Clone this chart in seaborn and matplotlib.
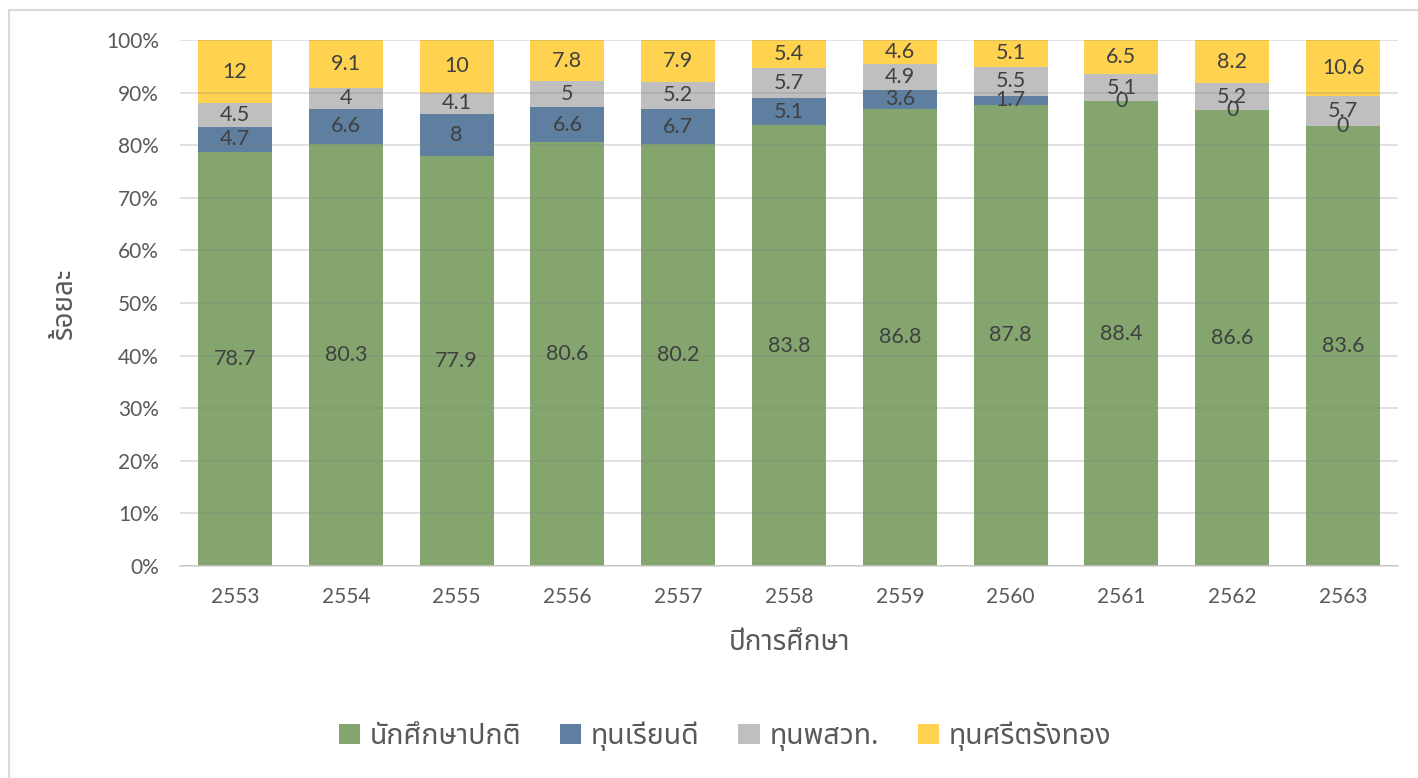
import matplotlib
matplotlib.use("Agg")
import matplotlib.pyplot as plt
from matplotlib.patches import Rectangle, Patch
import numpy as np
import pandas as pd
import seaborn as sns

years = ["2553", "2554", "2555", "2556", "2557", "2558", "2559", "2560", "2561", "2562", "2563"]
series_names = ["นักศึกษาปกติ", "ทุนเรียนดี", "ทุนพสวท.", "ทุนศรีตรังทอง"]
normal = [78.7, 80.3, 77.9, 80.6, 80.2, 83.8, 86.8, 87.8, 88.4, 86.6, 83.6]
merit = [4.7, 6.6, 8, 6.6, 6.7, 5.1, 3.6, 1.7, 0, 0, 0]
dpst = [4.5, 4, 4.1, 5, 5.2, 5.7, 4.9, 5.5, 5.1, 5.2, 5.7]
sritrang = [12, 9.1, 10, 7.8, 7.9, 5.4, 4.6, 5.1, 6.5, 8.2, 10.6]
colors = ["#84A66E", "#5F7FA1", "#BFBFBF", "#FFD34F"]
y_ticks = [0, 10, 20, 30, 40, 50, 60, 70, 80, 90, 100]

sns.set_theme(style="white")
plt.rcParams["font.family"] = ["Lato", "Noto Sans Thai", "DejaVu Sans"]

data = np.array([normal, merit, dpst, sritrang], dtype=float)
totals = data.sum(axis=0)
pct = data / totals * 100
cum = np.cumsum(pct, axis=0)

fig = plt.figure(figsize=(14.18, 7.78), dpi=100)
ax = fig.add_axes([179.6 / 1418, 1 - 566 / 778, (1398.4 - 179.6) / 1418, (566 - 40) / 778])

# stacked bars: draw cumulative heights from the top layer down
for i in range(3, -1, -1):
    df = pd.DataFrame({"year": years, "value": cum[i]})
    sns.barplot(data=df, x="year", y="value", color=colors[i], width=0.668,
                saturation=1, ax=ax, edgecolor="none", linewidth=0)

ax.set_axisbelow(False)
ax.yaxis.grid(True, color="#808080", alpha=0.28, linewidth=1.2)

for i in range(4):
    bottoms = cum[i] - pct[i]
    for j in range(len(years)):
        v = data[i][j]
        ax.text(j, bottoms[j] + pct[i][j] / 2, f"{v:g}", ha="center", va="center",
                fontsize=15.5, color="#404040", zorder=5)

ax.set_ylim(0, 100)
ax.set_xlim(-0.5, len(years) - 0.5)
ax.set_yticks(y_ticks)
ax.set_yticklabels([f"{t}%" for t in y_ticks])
for s in ["top", "right", "left"]:
    ax.spines[s].set_visible(False)
ax.spines["bottom"].set_color("#D9D9D9")
ax.spines["bottom"].set_linewidth(1.2)
ax.tick_params(axis="both", length=0, labelsize=15, labelcolor="#595959")
ax.tick_params(axis="x", pad=15)
ax.tick_params(axis="y", pad=15)
ax.set_xlabel("ปีการศึกษา", fontsize=20, color="#595959", labelpad=16)
ax.set_ylabel("ร้อยละ", fontsize=20, color="#595959", labelpad=21)

handles = [Patch(facecolor=c, edgecolor="none") for c in colors]
fig.legend(handles, series_names, loc="center", bbox_to_anchor=(725 / 1418, 1 - 736 / 778),
           ncol=4, frameon=False, handlelength=0.74, handleheight=0.72,
           columnspacing=1.36, handletextpad=0.35, labelcolor="#595959",
           prop={"family": ["Noto Sans Thai", "DejaVu Sans"], "size": 20.5, "weight": "bold"})

fig.patches.append(Rectangle((9 / 1418, -0.1), 1.2, 1.1 - 10 / 778,
                             transform=fig.transFigure, fill=False,
                             edgecolor="#D9D9D9", linewidth=1.5))

fig.savefig("out.png", dpi=100)
